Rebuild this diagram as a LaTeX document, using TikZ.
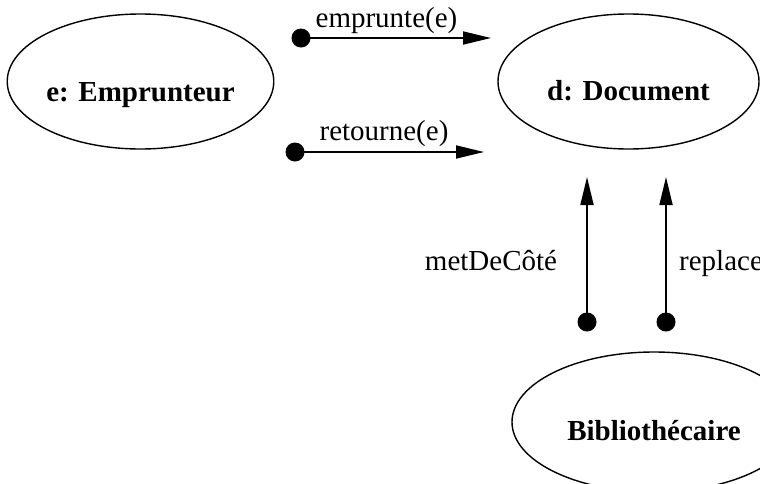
\documentclass[tikz,border=0pt]{standalone}
\usepackage{fontspec}
\setmainfont{Liberation Serif}
\usetikzlibrary{arrows.meta,shapes.geometric}
\begin{document}
\begin{tikzpicture}[x=1pt,y=-1pt,
  object/.style={draw,ellipse,line width=1.4pt,inner sep=0pt,
    minimum width=261pt,minimum height=135pt,
    font=\fontsize{29}{34}\selectfont\bfseries,text depth=0pt},
  msg/.style={line width=1.8pt,-{Triangle[length=28pt,width=13pt]}},
  dotend/.style={circle,fill,inner sep=0pt,minimum size=19pt},
  msglabel/.style={font=\fontsize{29}{34}\selectfont,anchor=base}]
\useasboundingbox (0,0) rectangle (760,483);
\clip (0,0) rectangle (760,483);

% objects
\node[object,text height=40pt] (emp) at (140.5,81.5) {e: Emprunteur};
\node[object,text height=37pt] (doc) at (628.5,81.5) {d: Document};
\node[object,minimum width=284pt,minimum height=140pt,text height=36pt] (bib) at (654,422) {Bibliothécaire};

% messages sent to the document
\node[dotend] (s1) at (301,38) {};
\coordinate (e1) at (491,38);
\draw[msg] (s1.center) -- (e1);
\node[msglabel] (m1) at (386.5,27) {emprunte(e)};

\node[dotend] (s2) at (295,152) {};
\coordinate (e2) at (484,152);
\draw[msg] (s2.center) -- (e2);
\node[msglabel] (m2) at (384,140) {retourne(e)};

\node[dotend] (s3) at (587,322) {};
\coordinate (e3) at (587,177);
\draw[msg] (s3.center) -- (e3);
\node[msglabel] (m3) at (491,270) {metDeCôté};

\node[dotend] (s4) at (666,322) {};
\coordinate (e4) at (666,177);
\draw[msg] (s4.center) -- (e4);
\node[msglabel,anchor=base west,inner sep=0pt] (m4) at (679,270) {replace};
\end{tikzpicture}
\end{document}
